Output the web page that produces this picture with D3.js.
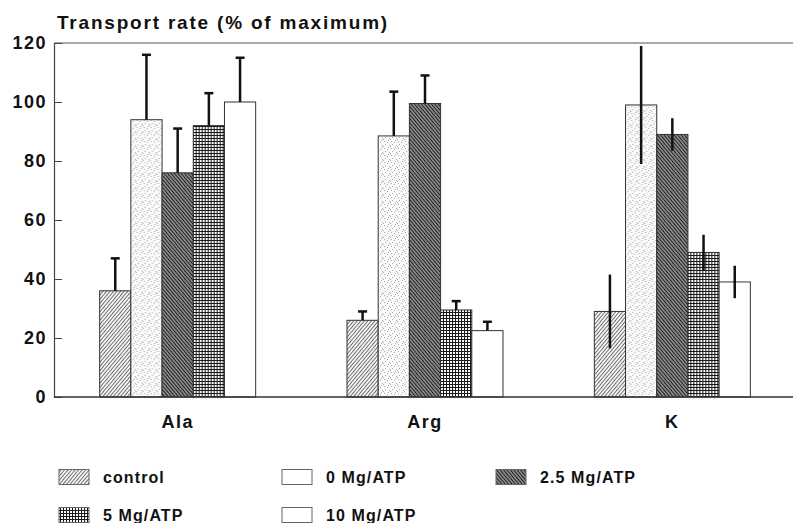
<!DOCTYPE html>
<html><head><meta charset="utf-8">
<script src="https://cdn.jsdelivr.net/npm/d3@7"></script>
<style>body{margin:0;background:#fff}svg{display:block}text{font-family:"Liberation Sans",Arial,sans-serif;font-weight:bold;fill:#111}</style>
</head><body><svg id="c" width="793" height="523"></svg>
<script>
const categories = ["Ala", "Arg", "K"];
const series = ["control", "0 Mg/ATP", "2.5 Mg/ATP", "5 Mg/ATP", "10 Mg/ATP"];
const valuesAla = [36, 94, 76, 92, 100];
const valuesArg = [26, 88.5, 99.5, 29.5, 22.5];
const valuesK = [29, 99, 89, 49, 39];
const errAla = [11, 22, 15, 11, 15];
const errArg = [3, 15, 9.5, 3, 3];
const errK = [12.5, 20, 5.5, 6, 5.5];
const errCapped = [true, true, false];
const yTicks = [0, 20, 40, 60, 80, 100, 120];
const title = "Transport rate (% of maximum)";

const values = [valuesAla, valuesArg, valuesK];
const errs = [errAla, errArg, errK];
const FONT = '"Liberation Sans",Arial,sans-serif';

const svg = d3.select("#c");
const defs = svg.append("defs");
function hatch(id, angle, gap, sw, color, bg) {
  const p = defs.append("pattern").attr("id", id).attr("patternUnits", "userSpaceOnUse")
    .attr("width", gap).attr("height", gap).attr("patternTransform", `rotate(${angle})`);
  p.append("rect").attr("width", gap).attr("height", gap).attr("fill", bg);
  p.append("line").attr("x1", 0).attr("y1", 0).attr("x2", 0).attr("y2", gap)
    .attr("stroke", color).attr("stroke-width", sw);
}
hatch("pCtrl", 40, 2.7, 1.2, "#222", "#f4f4f4");
hatch("p25", -40, 2.6, 1.6, "#111", "#888");
{
  const p = defs.append("pattern").attr("id", "p5").attr("patternUnits", "userSpaceOnUse").attr("width", 3).attr("height", 3);
  p.append("rect").attr("width", 3).attr("height", 3).attr("fill", "#fff");
  p.append("path").attr("d", "M0,0.5H3M0.5,0V3").attr("stroke", "#1a1a1a").attr("stroke-width", 1.1);
}
{
  const p = defs.append("pattern").attr("id", "p0").attr("patternUnits", "userSpaceOnUse").attr("width", 7).attr("height", 7);
  p.append("rect").attr("width", 7).attr("height", 7).attr("fill", "#fafafa");
  [[1,1],[4,2],[2,4],[6,5],[5,0],[0,6]].forEach(([a,b]) => p.append("rect").attr("x", a).attr("y", b).attr("width", 1).attr("height", 1).attr("fill", "#aaa"));
}
const fills = ["url(#pCtrl)", "url(#p0)", "url(#p25)", "url(#p5)", "#fff"];
const swatchFills = ["url(#pCtrl)", "#fff", "url(#p25)", "url(#p5)", "#fff"];

const y = d3.scaleLinear().domain([0, 120]).range([397, 43]);
const x0 = d3.scaleBand().domain(categories).range([54, 796]);
const x1 = d3.scaleBand().domain(series).range([-78, 78]);

svg.append("line").attr("x1", 54).attr("x2", 793).attr("y1", y(120)).attr("y2", y(120)).attr("stroke", "#555").attr("stroke-width", 1.2);

categories.forEach((c, gi) => {
  const cx = x0(c) + x0.bandwidth() / 2;
  const g = svg.append("g").attr("transform", `translate(${cx},0)`);
  g.selectAll("rect").data(series).join("rect")
    .attr("x", s => x1(s)).attr("width", x1.bandwidth())
    .attr("y", (s, i) => y(values[gi][i])).attr("height", (s, i) => y(0) - y(values[gi][i]))
    .attr("fill", (s, i) => fills[i]).attr("stroke", "#333").attr("stroke-width", 1);
  series.forEach((s, i) => {
    const ex = x1(s) + x1.bandwidth() / 2;
    const v = values[gi][i], e = errs[gi][i];
    if (errCapped[gi]) {
      g.append("line").attr("x1", ex).attr("x2", ex).attr("y1", y(v)).attr("y2", y(v + e)).attr("stroke", "#111").attr("stroke-width", 2.5);
      g.append("line").attr("x1", ex - 4.5).attr("x2", ex + 4.5).attr("y1", y(v + e)).attr("y2", y(v + e)).attr("stroke", "#111").attr("stroke-width", 2.5);
    } else {
      g.append("line").attr("x1", ex).attr("x2", ex).attr("y1", y(v - e)).attr("y2", y(v + e)).attr("stroke", "#111").attr("stroke-width", 2.5);
    }
  });
});

const yAxis = d3.axisLeft(y).tickValues(yTicks).tickSize(-8).tickPadding(7);
const ga = svg.append("g").attr("transform", "translate(54,0)").call(yAxis);
ga.select(".domain").attr("stroke", "#444").attr("stroke-width", 1.2);
ga.selectAll(".tick line").attr("stroke", "#444");
ga.selectAll(".tick text").style("font-size", "18px").style("letter-spacing", "1.5px").attr("fill", "#111").style("font-family", FONT).style("font-weight", "bold");

const xAxis = d3.axisBottom(x0).tickSize(0).tickPadding(18);
const gx = svg.append("g").attr("transform", "translate(0,397)").call(xAxis);
gx.select(".domain").attr("d", "M54,0H793").attr("stroke", "#333").attr("stroke-width", 1.5);
gx.selectAll(".tick text").style("font-size", "18px").style("letter-spacing", "1.5px").attr("fill", "#111").style("font-family", FONT).style("font-weight", "bold");

svg.append("text").attr("x", 57).attr("y", 29).style("font-size", "19px").style("letter-spacing", "1.8px").text(title);

const legPos = [[59, 477], [282, 477], [496, 477], [59, 515], [282, 515]];
series.forEach((s, i) => {
  const [lx, ly] = legPos[i];
  svg.append("rect").attr("x", lx).attr("y", ly - 7.5).attr("width", 30).attr("height", 15)
    .attr("fill", swatchFills[i]).attr("stroke", "#666").attr("stroke-width", 1);
  svg.append("text").attr("x", lx + 44).attr("y", ly + 6).style("font-size", "16px").style("letter-spacing", "1.1px").text(s);
});
</script></body></html>
